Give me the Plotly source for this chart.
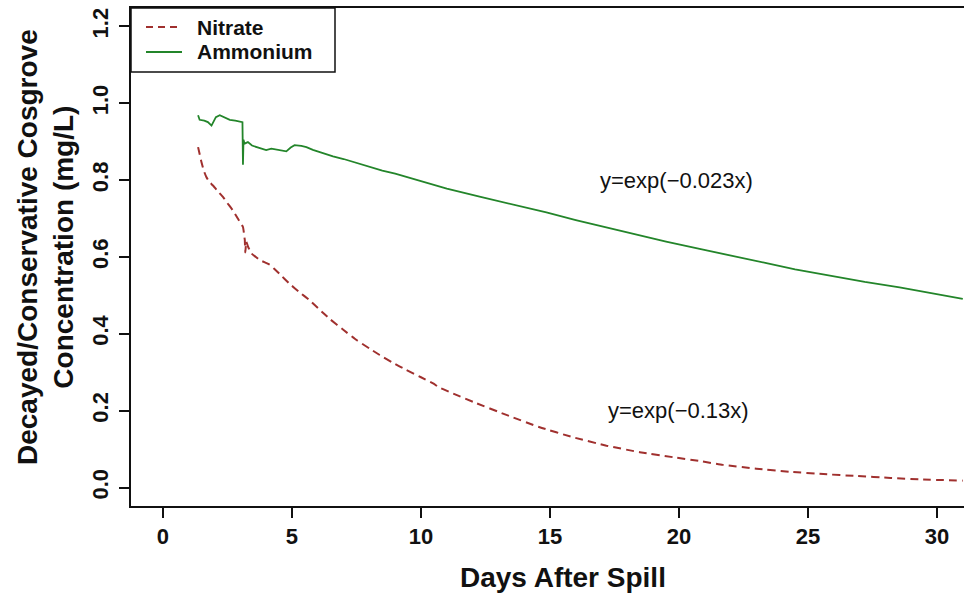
import plotly.graph_objects as go

# Ammonium: decayed/conservative concentration ratio over time
ammonium_days = [1.36, 1.42, 1.6, 1.74, 1.88, 1.95, 2.05, 2.2, 2.4, 2.59, 2.8, 3.04,
                 3.08, 3.10, 3.12, 3.16, 3.29, 3.45, 3.62, 3.8, 4.0, 4.2, 4.4, 4.6,
                 4.78, 4.95, 5.1, 5.36, 5.56, 5.81, 6.07, 6.3, 6.59, 7.0, 7.5, 8.01,
                 8.5, 9.0, 9.43, 10.34, 11.0, 12.27, 13.57, 14.86, 16.0, 17.44, 18.22,
                 19.5, 20.8, 22.0, 23.39, 24.5, 25.97, 27.2, 28.55, 29.8, 31.0]
ammonium_ratio = [0.969, 0.957, 0.955, 0.951, 0.942, 0.950, 0.964, 0.969, 0.962, 0.957,
                  0.955, 0.950, 0.951, 0.840, 0.905, 0.895, 0.899, 0.890, 0.886, 0.883,
                  0.878, 0.882, 0.879, 0.877, 0.875, 0.885, 0.891, 0.889, 0.886, 0.879,
                  0.873, 0.867, 0.862, 0.855, 0.845, 0.834, 0.825, 0.817, 0.809, 0.791,
                  0.778, 0.757, 0.737, 0.716, 0.696, 0.673, 0.660, 0.640, 0.621, 0.603,
                  0.584, 0.568, 0.549, 0.535, 0.521, 0.505, 0.491]

# Nitrate: decayed/conservative concentration ratio over time
nitrate_days = [1.36, 1.42, 1.49, 1.58, 1.68, 1.8, 1.94, 2.1, 2.33, 2.5, 2.71, 2.9,
                3.1, 3.15, 3.17, 3.19, 3.23, 3.29, 3.43, 3.6, 3.75, 3.95, 4.14, 4.3,
                4.52, 4.91, 5.3, 5.69, 6.07, 6.46, 7.0, 7.5, 8.0, 8.4, 8.9, 9.43, 10.0,
                10.47, 10.72, 11.37, 12.02, 13.31, 14.6, 15.89, 17.19, 18.48, 19.77,
                20.8, 21.7, 23.0, 24.29, 25.6, 26.88, 28.2, 29.46, 31.0]
nitrate_ratio = [0.886, 0.868, 0.847, 0.825, 0.808, 0.795, 0.786, 0.773, 0.756, 0.740,
                 0.721, 0.700, 0.678, 0.655, 0.645, 0.612, 0.640, 0.628, 0.609, 0.600,
                 0.592, 0.586, 0.580, 0.570, 0.556, 0.530, 0.508, 0.487, 0.463, 0.439,
                 0.410, 0.384, 0.362, 0.345, 0.325, 0.306, 0.287, 0.271, 0.260, 0.241,
                 0.223, 0.189, 0.157, 0.131, 0.109, 0.092, 0.079, 0.069, 0.059, 0.049,
                 0.041, 0.035, 0.030, 0.025, 0.021, 0.018]

x_ticks = [0, 5, 10, 15, 20, 25, 30]
y_ticks = [0.0, 0.2, 0.4, 0.6, 0.8, 1.0, 1.2]
fit_labels = ["y=exp(\u22120.023x)", "y=exp(\u22120.13x)"]
fit_label_pos = [(19.9, 0.8), (20, 0.2)]
legend_names = ["Nitrate", "Ammonium"]

NITRATE_COLOR = "#A0302E"
AMMONIUM_COLOR = "#23852A"
FONT = "Liberation Sans, Arial, Helvetica, sans-serif"

W, H = 964, 594
ML, MR, MT, MB = 131, 0, 8, 88
PW, PH = W - ML - MR, H - MT - MB


def px_x(p):
    return (p - ML) / PW


def px_y(p):
    return (H - MB - p) / PH


fig = go.Figure()
fig.add_trace(go.Scatter(x=nitrate_days, y=nitrate_ratio, mode="lines",
                         line=dict(color=NITRATE_COLOR, width=2, dash="8px,5px", shape="spline",
                                   smoothing=0.4),
                         name=legend_names[0], showlegend=False))
fig.add_trace(go.Scatter(x=ammonium_days, y=ammonium_ratio, mode="lines",
                         line=dict(color=AMMONIUM_COLOR, width=1.8),
                         name=legend_names[1], showlegend=False))

annotations = []
for text, (ax, ay) in zip(fit_labels, fit_label_pos):
    annotations.append(dict(x=ax, y=ay, xref="x", yref="y", text=text, showarrow=False,
                            font=dict(family=FONT, size=22, color="#111"),
                            xanchor="center", yanchor="middle"))

# axis titles
annotations.append(dict(x=px_x(563), y=px_y(577), xref="paper", yref="paper",
                        text="<b>Days After Spill</b>", showarrow=False,
                        font=dict(family=FONT, size=28, color="#111"),
                        xanchor="center", yanchor="middle"))
annotations.append(dict(x=px_x(45), y=px_y(247), xref="paper", yref="paper",
                        text="<b>Decayed/Conservative Cosgrove<br>Concentration (mg/L)</b>",
                        showarrow=False, textangle=-90,
                        font=dict(family=FONT, size=28, color="#111"),
                        xanchor="center", yanchor="middle"))

# legend box
shapes = [dict(type="rect", xref="paper", yref="paper",
               x0=px_x(131), x1=px_x(335), y0=px_y(72), y1=px_y(8),
               line=dict(color="#111", width=1.5), fillcolor="white", layer="above")]
legend_rows = [(27, NITRATE_COLOR, "7px,5px"), (52, AMMONIUM_COLOR, "solid")]
for name, (ry, col, dash) in zip(legend_names, legend_rows):
    shapes.append(dict(type="line", xref="paper", yref="paper",
                       x0=px_x(146), x1=px_x(182), y0=px_y(ry), y1=px_y(ry),
                       line=dict(color=col, width=2, dash=dash), layer="above"))
    annotations.append(dict(x=px_x(196), y=px_y(ry), xref="paper", yref="paper",
                            text="<b>%s</b>" % name, showarrow=False,
                            borderpad=0,
                            font=dict(family=FONT, size=21, color="#111"),
                            xanchor="left", yanchor="middle"))

fig.update_layout(
    width=W, height=H,
    margin=dict(l=ML, r=MR, t=MT, b=MB),
    paper_bgcolor="white", plot_bgcolor="white",
    showlegend=False,
    annotations=annotations,
    shapes=shapes,
    xaxis=dict(range=[-1.24, -1.24 + PW / 25.8], tickvals=x_ticks,
               ticktext=["<b>%d</b>" % v for v in x_ticks],
               showgrid=False, zeroline=False,
               showline=True, mirror=True, linecolor="#111", linewidth=1.5,
               ticks="outside", ticklen=10, tickwidth=1.5, tickcolor="#111",
               tickfont=dict(family=FONT, size=22, color="#111")),
    yaxis=dict(range=[-0.048, 1.248], tickvals=y_ticks,
               ticktext=["<b>%.1f</b>" % v for v in y_ticks],
               showgrid=False, zeroline=False,
               showline=True, linecolor="#111", linewidth=1.5,
               ticks="outside", ticklen=10, tickwidth=1.5, tickcolor="#111",
               tickangle=-90, ticklabelstandoff=2,
               tickfont=dict(family=FONT, size=22, color="#111")),
)

fig.write_html("out.html")
